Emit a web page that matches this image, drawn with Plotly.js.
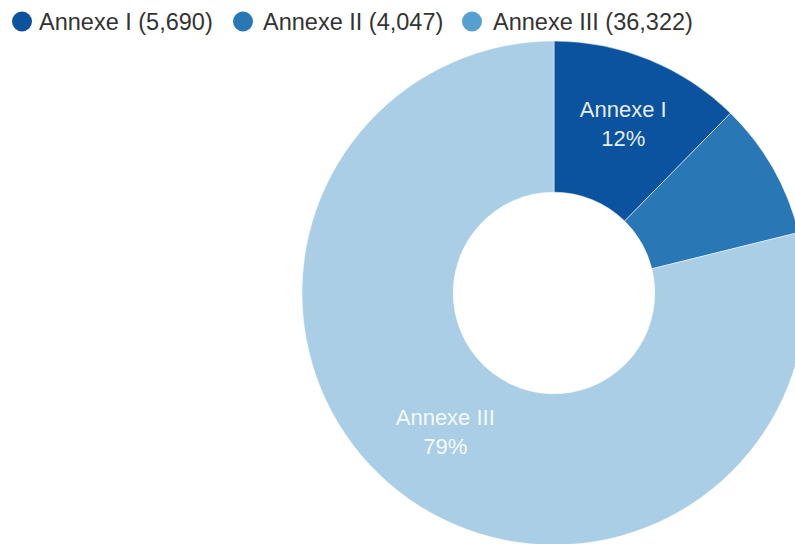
<!DOCTYPE html>
<html>
<head>
<meta charset="utf-8">
<script src="https://cdn.plot.ly/plotly-3.0.1.min.js"></script>
<style>
  html, body { margin: 0; padding: 0; overflow: hidden; background: #fff; }
  #chart { width: 860px; height: 600px; }
</style>
</head>
<body>
<div id="chart"></div>
<script>
const labels = ['Annexe I', 'Annexe II', 'Annexe III'];
const values = [5690, 4047, 36322];
const sliceColors = ['#0b539f', '#2a77b6', '#a9cee5'];
const legendColors = ['#0b539f', '#2a77b6', '#55a0d0'];
const sliceText = ['Annexe I<br>12%', '', 'Annexe III<br>79%'];
const legendText = ['Annexe I (5,690)', 'Annexe II (4,047)', 'Annexe III (36,322)'];

const W = 860, H = 600;
const FONT = 'Liberation Sans, Arial, sans-serif';

const pie = {
  type: 'pie',
  labels: labels,
  values: values,
  hole: 0.40,
  sort: false,
  direction: 'clockwise',
  rotation: 0,
  marker: { colors: sliceColors, line: { color: 'rgba(255,255,255,0.5)', width: 1 } },
  text: sliceText,
  textinfo: 'text',
  textposition: 'inside',
  insidetextorientation: 'horizontal',
  insidetextfont: { family: FONT, size: 22, color: 'rgba(255,255,255,0.92)' },
  showlegend: false,
  hoverinfo: 'label+value+percent',
  domain: { x: [302 / W, 806 / W], y: [1 - 545 / H, 1 - 41 / H] }
};

// custom legend
const legendMarkerX = [22, 243, 472];
const legendTextX = [37, 261, 491];
const legendY = 21.5;
const shapes = [];
const annotations = [];
for (let i = 0; i < labels.length; i++) {
  const r = 10;
  shapes.push({
    type: 'circle', xref: 'paper', yref: 'paper',
    x0: (legendMarkerX[i] - r) / W, x1: (legendMarkerX[i] + r) / W,
    y0: 1 - (legendY + r) / H, y1: 1 - (legendY - r) / H,
    fillcolor: legendColors[i], line: { width: 0 }
  });
  annotations.push({
    xref: 'paper', yref: 'paper',
    x: legendTextX[i] / W, y: 1 - legendY / H,
    xanchor: 'left', yanchor: 'middle',
    text: legendText[i], showarrow: false,
    font: { family: FONT, size: 23.5, color: '#333333' }
  });
}

const layout = {
  width: W, height: H,
  margin: { l: 0, r: 0, t: 0, b: 0 },
  paper_bgcolor: '#ffffff',
  showlegend: false,
  shapes: shapes,
  annotations: annotations
};

Plotly.newPlot('chart', [pie], layout, { displayModeBar: false, staticPlot: true });
</script>
</body>
</html>
